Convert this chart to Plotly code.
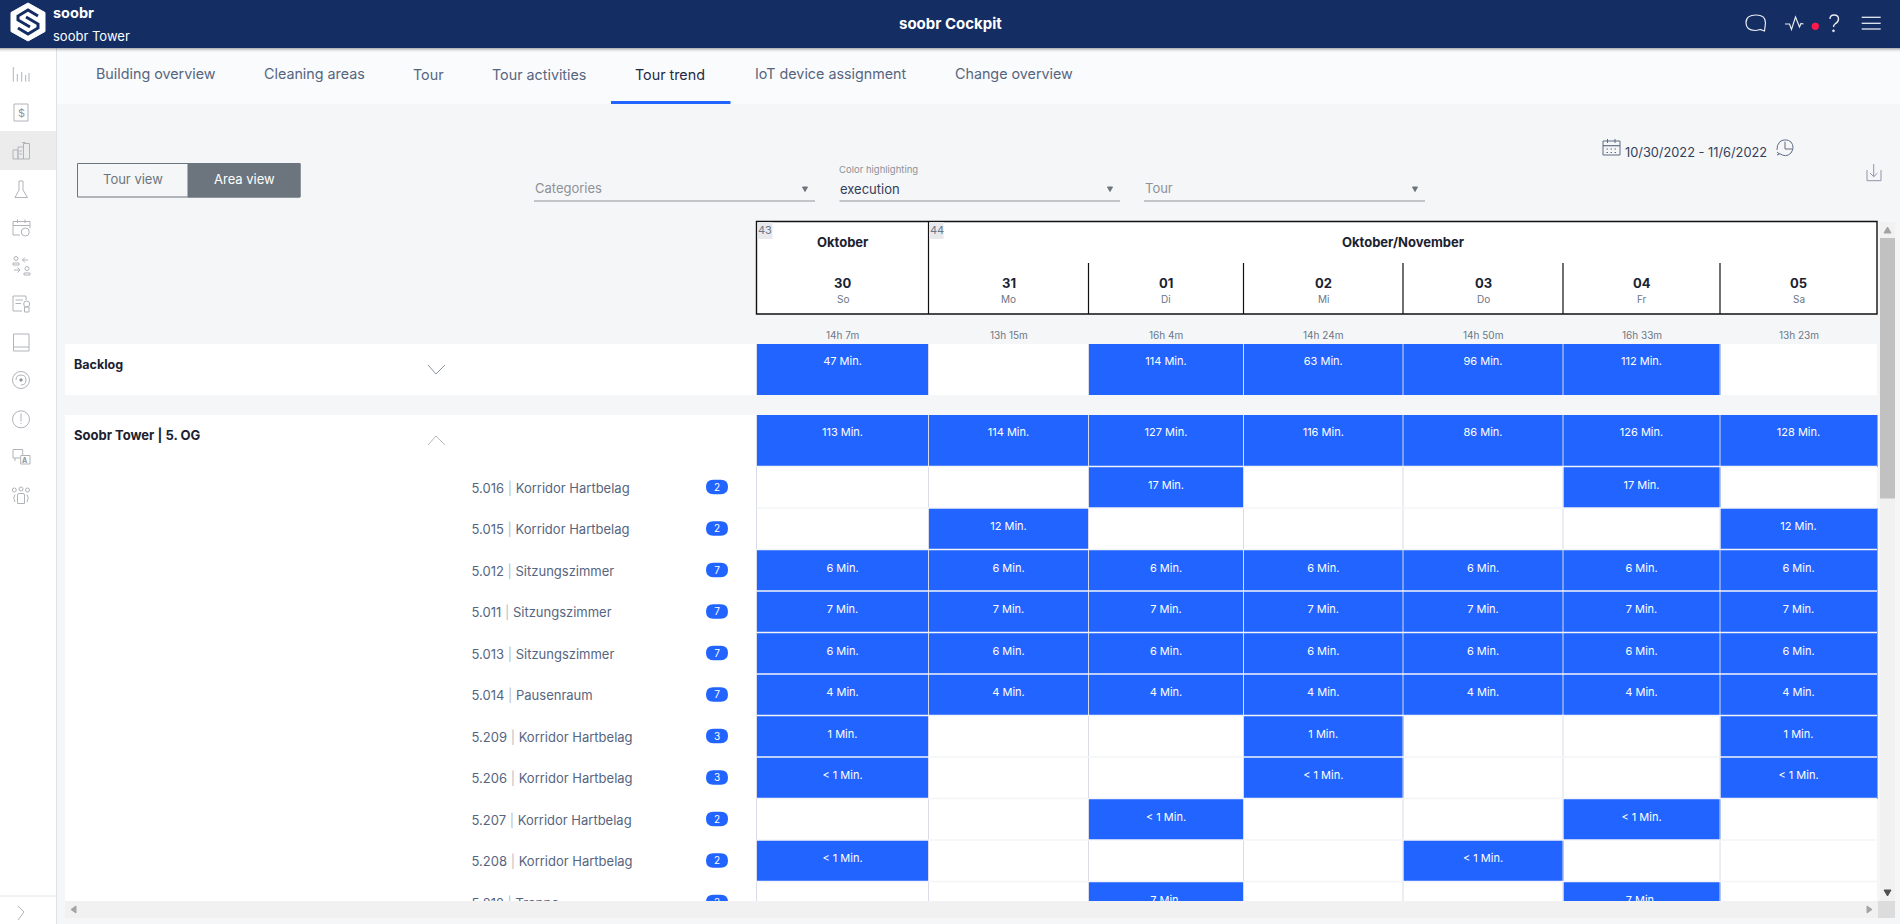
import numpy as np
import plotly.graph_objects as go

# ---- data ----
week_labels = ["43", "44"]
month_labels = ["Oktober", "Oktober/November"]
day_numbers = ["30", "31", "01", "02", "03", "04", "05"]
day_names = ["So", "Mo", "Di", "Mi", "Do", "Fr", "Sa"]
day_totals = ["14h 7m", "13h 15m", "16h 4m", "14h 24m", "14h 50m", "16h 33m", "13h 23m"]

backlog = [47, None, 114, 63, 96, 112, None]
floor_total = [113, 114, 127, 116, 86, 126, 128]

area_ids = ["5.016", "5.015", "5.012", "5.011", "5.013", "5.014", "5.209", "5.206", "5.207", "5.208", "5.212"]
area_names = ["Korridor Hartbelag", "Korridor Hartbelag", "Sitzungszimmer", "Sitzungszimmer", "Sitzungszimmer",
              "Pausenraum", "Korridor Hartbelag", "Korridor Hartbelag", "Korridor Hartbelag", "Korridor Hartbelag",
              "Treppe"]
area_badges = [2, 2, 7, 7, 7, 7, 3, 3, 2, 2, 2]

# 0.5 stands for the "< 1 Min." cells
area_5016 = [None, None, 17, None, None, 17, None]
area_5015 = [None, 12, None, None, None, None, 12]
area_5012 = [6, 6, 6, 6, 6, 6, 6]
area_5011 = [7, 7, 7, 7, 7, 7, 7]
area_5013 = [6, 6, 6, 6, 6, 6, 6]
area_5014 = [4, 4, 4, 4, 4, 4, 4]
area_5209 = [1, None, None, 1, None, None, 1]
area_5206 = [0.5, None, None, 0.5, None, None, 0.5]
area_5207 = [None, None, 0.5, None, None, 0.5, None]
area_5208 = [0.5, None, None, None, 0.5, None, None]
area_5212 = [None, None, 7, None, None, 7, None]
area_rows = [area_5016, area_5015, area_5012, area_5011, area_5013, area_5014,
             area_5209, area_5206, area_5207, area_5208, area_5212]

tab_names = ["Building overview", "Cleaning areas", "Tour", "Tour activities", "Tour trend",
             "IoT device assignment", "Change overview"]

# ---- page layout in pixels ----
W, H = 1900, 924
FONT = "Inter"
NAVY = "#142d63"
BLUE = "#2264ff"
PAGE = "#f5f6f8"
SLATE = "#56657f"
ICON = "#b0b3ba"
NONE = "rgba(0,0,0,0)"

GRID_LEFT = 756.5
col_widths = [172, 160, 155, 159.5, 160, 157, 157]
row_heights = [51, 20, 51.5] + [41.5] * 11
col_edges = GRID_LEFT + np.concatenate([[0], np.cumsum(col_widths)])
row_edges = 344 + np.concatenate([[0], np.cumsum(row_heights)])
col_mid = (col_edges[:-1] + col_edges[1:]) / 2
GRID_RIGHT = col_edges[-1]
VIEW_BOTTOM = 901

shapes = []
annotations = []


def rect(x0, y0, x1, y1, fill, line=None, width=1, layer="below"):
    shapes.append(dict(type="rect", x0=x0, y0=y0, x1=x1, y1=y1, fillcolor=fill, layer=layer,
                       line=dict(color=line, width=width if line else 0)))


def seg(x0, y0, x1, y1, color=ICON, width=1, layer="below"):
    shapes.append(dict(type="line", x0=x0, y0=y0, x1=x1, y1=y1, layer=layer, line=dict(color=color, width=width)))


def path(d, color=ICON, width=1, fill=NONE, layer="below"):
    shapes.append(dict(type="path", path=d, fillcolor=fill, layer=layer, line=dict(color=color, width=width)))


def circle(cx, cy, rx, ry=None, color=ICON, width=1, fill=NONE):
    ry = ry or rx
    shapes.append(dict(type="circle", x0=cx - rx, y0=cy - ry, x1=cx + rx, y1=cy + ry, fillcolor=fill, layer="below",
                       line=dict(color=color, width=width)))


def pill(cx, cy, w, h, fill):
    r = h / 2
    x0, x1 = cx - w / 2 + r, cx + w / 2 - r
    d = (f"M{x0},{cy - r} L{x1},{cy - r} Q{x1 + r},{cy - r} {x1 + r},{cy} Q{x1 + r},{cy + r} {x1},{cy + r} "
         f"L{x0},{cy + r} Q{x0 - r},{cy + r} {x0 - r},{cy} Q{x0 - r},{cy - r} {x0},{cy - r} Z")
    shapes.append(dict(type="path", path=d, fillcolor=fill, layer="below", line=dict(width=0)))


def txt(x, y, s, size=13, color=SLATE, anchor="center", bold=False):
    annotations.append(dict(x=x, y=y, text=f"<b>{s}</b>" if bold else s, showarrow=False, xanchor=anchor,
                            yanchor="middle", xref="x", yref="y",
                            font=dict(family=FONT, size=size, color=color)))


# backgrounds
rect(0, 0, W, H, PAGE)
rect(57, 48, W, 104, "#fafbfd")
rect(0, 48, 56, H, "#ffffff")
seg(56.5, 48, 56.5, H, "#dfe1e6")
rect(0, 131, 56, 170, "#ececec")
seg(0, 896, 56, 896, "#e3e4e8")
rect(0, 0, W, 48, NAVY)
for i, a in enumerate([0.28, 0.16, 0.08, 0.03]):
    rect(0, 48 + i, W, 49 + i, f"rgba(0,0,0,{a})")

# logo
path("M28,3 L45,12.5 L45,31.5 L28,41 L11,31.5 L11,12.5 Z", color="#ffffff", fill="#ffffff")
path("M38,16 L28,10 L18,16 L18,20 L30,27", color=NAVY, width=3)
path("M18,28 L28,34 L38,28 L38,24 L26,17", color=NAVY, width=3)
txt(50.5, 12.5, "soobr", 14.5, "#ffffff", "left", True)
txt(51, 35.5, "soobr Tower", 13, "#ffffff", "left")
txt(950, 23, "soobr Cockpit", 15, "#ffffff", bold=True)

# top right icons
path("M1746,22.7 Q1746,15 1756,15 Q1765.5,15 1765.5,22.7 L1764.5,31 L1760,29.5 Q1757,30.5 1755,30.5 "
     "Q1746,30 1746,22.7 Z", color="#e8ebf2", width=1.2)
path("M1785,24 L1789.5,24 L1791.5,29.5 L1795.5,17 L1799.5,27 L1801,23.5 L1803.5,24", color="#e8ebf2", width=1.2)
circle(1815.3, 26.3, 3.3, color="#ff1a4b", fill="#ff1a4b")
path("M1830,19 Q1830,15 1834,15 Q1838.5,15 1838.5,19 Q1838.5,22 1835,24 Q1833.5,25 1833.5,27",
     color="#e8ebf2", width=1.4)
circle(1833.5, 30.8, 0.9, color="#e8ebf2", fill="#e8ebf2")
for ly in [17.3, 23.3, 29]:
    seg(1861.7, ly, 1880.7, ly, "#e8ebf2", 1.3)

# sidebar icons, thin line drawings
for bx, by in [(13.3, 67), (17.3, 74), (21.7, 72), (25.7, 75), (29, 73)]:
    seg(bx, by, bx, 81.7)
rect(14, 104, 28, 121, NONE, ICON)
txt(21, 112.5, "$", 11, "#8e939c")
# building
rect(13, 150, 18, 159, NONE, ICON)
rect(18, 147, 23.5, 159, NONE, ICON)
rect(23.5, 143.5, 29.5, 159, NONE, ICON)
seg(22, 142.5, 25.5, 142.5)
seg(19.5, 151, 22, 151)
seg(19.5, 154, 22, 154)
# flask
path("M19,181 L23,181 L23,190 L27.5,197.5 L15,197.5 L19,190 Z")
# calendar with clock
path("M20,235 L13,235 L13,221.5 L30,221.5 L30,228")
seg(13, 225.5, 30, 225.5)
seg(17.5, 219.5, 17.5, 223)
seg(25, 219.5, 25, 223)
circle(25.3, 232, 4)
# people swap
circle(16, 258.5, 2)
path("M13,265 L13,263 L19,263 L19,265 Z")
path("M28,260 L22.5,260 M25,257.5 L22.5,260 L25,262.5")
path("M14,270 L20,270 M17.5,267.5 L20,270 L17.5,272.5")
circle(27, 268.5, 2)
path("M24,275 L24,273 L30,273 L30,275 Z")
# document with medal
path("M24,296 L13,296 L13,311 L22,311 M24,296 L26,296 L26,300")
seg(15.5, 300, 23, 300)
seg(15.5, 303.5, 21, 303.5)
circle(26.7, 304, 3)
rect(24.5, 307, 29, 312, NONE, ICON)
# tablet
rect(13.5, 334, 29, 351, NONE, ICON)
seg(14, 347, 29, 347)
# target
circle(21, 380, 8.5)
path("M16,380 Q16,375 21,375 Q26,375 26,380 Q26,385 21,385")
circle(21, 380, 1.2, color="#8e939c", fill="#8e939c")
# warning
circle(21, 419.3, 8.5)
seg(21, 413.5, 21, 421.5)
seg(21, 423, 21, 424)
# translate
rect(13, 449.5, 22.7, 458, NONE, ICON)
rect(20.7, 455.5, 30, 464, "#ffffff", ICON)
txt(25.3, 460, "A", 7, "#8e939c", bold=True)
seg(15, 458, 15, 461)
# people group
circle(14.3, 490, 2)
circle(21, 489, 2)
circle(27.5, 490, 2)
path("M17.5,503.5 L17.5,495 Q17.5,493.5 19,493.5 L23,493.5 Q24.5,493.5 24.5,495 L24.5,503.5 Z")
path("M15,494.5 Q12.5,498 15,502 M27,494.5 Q29.5,498 27,502")
path("M18,906 L24,912 L18,920")

# tabs
tab_x = [156, 314.5, 428.5, 538.5, 670, 830, 1013.5]
for name, x in zip(tab_names, tab_x):
    active = name == "Tour trend"
    txt(x, 74, name, 14.3, "#1f2a44" if active else SLATE)
rect(611, 101, 730.5, 104, BLUE)

# view toggle
rect(77.5, 163.5, 300, 197, NONE, "#6c757d", 1)
rect(188, 163.5, 300, 197, "#6c757d", "#6c757d", 1)
txt(132.5, 179, "Tour view", 13, "#6c757d")
txt(244, 179, "Area view", 13, "#ffffff")

# dropdowns
for x0, x1, label, col, ty in [(534, 815, "Categories", "#8d9198", 187.5), (839.5, 1120, "execution", "#33405a", 188.5),
                               (1144, 1425, "Tour", "#8d9198", 187.5)]:
    seg(x0, 201, x1, 201, "#8f9297")
    txt(x0 - 1.5, ty, label, 13, col, "left")
    path(f"M{x1 - 12.5},187 L{x1 - 7.5},187 L{x1 - 10},191.5 Z", color="#6c757d", fill="#6c757d")
txt(836.5, 169, "Color highlighting", 9.5, "#8d9198", "left")

# date range and download
rect(1603, 141, 1620, 155, NONE, "#5f6c85")
seg(1603, 145.7, 1620, 145.7, "#5f6c85", 1.2)
seg(1607.5, 139, 1607.5, 143, "#5f6c85")
seg(1615, 139, 1615, 143, "#5f6c85")
for dx in [1606.5, 1610.5, 1614.5]:
    seg(dx, 149, dx + 1.5, 149, "#5f6c85")
    seg(dx, 152.5, dx + 1.5, 152.5, "#5f6c85")
txt(1622.5, 152, "10/30/2022 - 11/6/2022", 12.8, "#33405a", "left")
path("M1779.5,153.5 Q1786,158 1791,153 Q1795,147 1791,142 Q1786,138 1780,141.5 Q1776.5,145 1777,150",
     color="#5f6c85")
path("M1785,141.7 L1785,149 L1792,149", color="#5f6c85")
path("M1777,152 L1779.5,154 L1777,155", color="#5f6c85")
path("M1867,170 L1867,180.7 L1881,180.7 L1881,170", color="#8d97a8")
path("M1873.7,164 L1873.7,176.7 M1870,173 L1873.7,176.7 L1877.5,173", color="#8d97a8")

# calendar header
rect(GRID_LEFT, 221.5, GRID_RIGHT, 314, "#ffffff", "#111111", 1.4)
seg(col_edges[1], 221.5, col_edges[1], 314, "#111111", 1.2)
for xe in col_edges[2:-1]:
    seg(xe, 263, xe, 314, "#111111", 1.2)
rect(col_edges[0] + 1, 222, col_edges[0] + 16, 239, "#e7e9ed")
rect(col_edges[1] + 1, 222, col_edges[1] + 15, 239, "#e7e9ed")
txt(col_edges[0] + 8, 230, week_labels[0], 11, "#6c7686")
txt(col_edges[1] + 8, 230, week_labels[1], 11, "#6c7686")
txt(col_mid[0], 241.5, month_labels[0], 13, "#1b2230", bold=True)
txt((col_edges[1] + col_edges[-1]) / 2 + 1, 241.5, month_labels[1], 13, "#1b2230", bold=True)
for x, num, name, total in zip(col_mid, day_numbers, day_names, day_totals):
    txt(x, 283, num, 13, "#1b2230", bold=True)
    txt(x, 299, name, 10, "#6c7686")
    txt(x, 335, total, 10, "#6c7686")

# white panels left of the grid
rect(65, row_edges[0], GRID_LEFT, row_edges[1], "#ffffff")
rect(65, row_edges[2], GRID_LEFT, H, "#ffffff")
rect(GRID_LEFT, row_edges[0], GRID_RIGHT, row_edges[1], "#ffffff")
rect(GRID_LEFT, row_edges[2], GRID_RIGHT, H, "#ffffff")
txt(72, 364, "Backlog", 12.5, "#1b2230", "left", True)
txt(72, 434.5, "Soobr Tower | 5. OG", 13, "#1b2230", "left", True)
path("M428,365 L436,374 L445,365", color="#8d97a8")
path("M428,445 L436,436 L445,445", color="#b4b8c0")

# badges sit under the label trace
area_tops = row_edges[3:-1]
for top in area_tops:
    pill(717, top + 20.5, 22, 14.5, BLUE)

# the grid itself
z = [backlog, [None] * 7, floor_total] + area_rows
fig = go.Figure()
fig.add_trace(go.Heatmap(x=col_edges, y=row_edges, z=z, colorscale=[[0, BLUE], [1, BLUE]], showscale=False,
                         hoverinfo="skip", zmin=0, zmax=150))

# cell texts, the small rows sit a little lower
cell_x, cell_y, cell_text = [], [], []
for i, (top, row) in enumerate(zip(row_edges[:-1], z)):
    for x, v in zip(col_mid, row):
        if v is None:
            continue
        cell_x.append(x)
        cell_y.append(top + (19.5 if i > 2 else 18.5))
        cell_text.append("< 1 Min." if v < 1 else f"{v} Min.")
fig.add_trace(go.Scatter(x=cell_x, y=cell_y, text=cell_text, mode="text", textposition="middle center",
                         textfont=dict(family=FONT, size=11, color="#ffffff"), hoverinfo="skip", showlegend=False))

# area labels and badge numbers
labels = [f'{a} <span style="color:#b9bec8">|</span> {n}' for a, n in zip(area_ids, area_names)]
fig.add_trace(go.Scatter(x=[471.5] * len(labels), y=area_tops + 23, text=labels, mode="text",
                         textposition="middle right", textfont=dict(family=FONT, size=13, color=SLATE),
                         hoverinfo="skip", showlegend=False))
fig.add_trace(go.Scatter(x=[717] * len(labels), y=area_tops + 21.5, text=[str(b) for b in area_badges], mode="text",
                         textposition="middle center", textfont=dict(family=FONT, size=10, color="#ffffff"),
                         hoverinfo="skip", showlegend=False))

# cell separators
for xe in col_edges[:-1]:
    seg(xe, row_edges[0], xe, row_edges[1], "#d9dce8", 1, "above")
    seg(xe, row_edges[2], xe, VIEW_BOTTOM, "#d9dce8", 1, "above")
for ye in row_edges[3:-1]:
    seg(GRID_LEFT, ye, GRID_RIGHT, ye, "#f3f4f7", 1.6, "above")

# scrollbars cover whatever runs past the bottom
rect(57, VIEW_BOTTOM, W, H, PAGE, layer="above")
rect(65, VIEW_BOTTOM, 1878, 918, "#f1f1f1", layer="above")
rect(1878, VIEW_BOTTOM, 1895, 918, "#dcdcdc", layer="above")
rect(1880, 222, 1895, VIEW_BOTTOM, "#f1f1f1", layer="above")
rect(1880, 238, 1895, 498.5, "#c1c1c1", layer="above")
path("M1884,233 L1891,233 L1887.5,227 Z", color="#a3a3a3", fill="#a3a3a3", layer="above")
path("M1884,890 L1891,890 L1887.5,896 Z", color="#505050", fill="#505050", layer="above")
path("M76,906 L76,913 L71,909.5 Z", color="#a3a3a3", fill="#a3a3a3", layer="above")
path("M1867,906 L1867,913 L1872,909.5 Z", color="#a3a3a3", fill="#a3a3a3", layer="above")

fig.update_layout(
    width=W, height=H, margin=dict(l=0, r=0, t=0, b=0), autosize=False,
    plot_bgcolor=PAGE, paper_bgcolor=PAGE, showlegend=False,
    xaxis=dict(range=[0, W], visible=False, fixedrange=True),
    yaxis=dict(range=[H, 0], visible=False, fixedrange=True),
    shapes=shapes, annotations=annotations, hovermode=False,
)

fig.write_html("out.html", config=dict(displayModeBar=False),
               post_script="document.body.style.margin='0';document.body.style.overflow='hidden';")
